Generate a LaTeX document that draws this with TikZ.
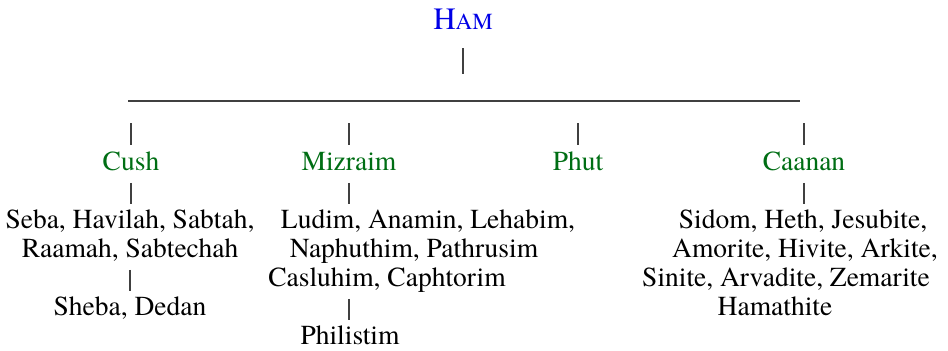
\documentclass[tikz,border=0pt]{standalone}
\usepackage{fontspec}
\setmainfont{texgyretermes}[Extension=.otf,UprightFont=*-regular,BoldFont=*-bold,ItalicFont=*-italic]
\usepackage{tikz}
\definecolor{hamblue}{RGB}{0,0,230}
\definecolor{songreen}{RGB}{0,110,20}

\begin{document}
\begin{tikzpicture}[x=0.5pt, y=-0.5pt,
		root_style/.style={anchor=base,inner sep=0pt,text depth=0pt,text=hamblue},
		son_style/.style={anchor=base,inner sep=0pt,text height=9pt,text depth=2.5pt,font=\fontsize{13.75}{16}\selectfont,text=songreen},
		name_style/.style={anchor=base,inner sep=0pt,text height=9pt,text depth=2.5pt,font=\fontsize{13.75}{16}\selectfont},
		rail_style/.style={draw=black!75,line width=0.65pt},
		bar_style/.style={draw=black!75,line width=0.65pt,shorten <=3.75pt,shorten >=3pt}]

		\useasboundingbox (0,0) rectangle (948,350);

		\node[root_style] (ham) at (463,29) {\fontsize{15.5}{18}\selectfont H\fontsize{11.5}{14}\selectfont AM};

		\coordinate (rail_w) at (128,101);
		\coordinate (rail_e) at (800,101);

		\node[son_style] (cush) at (131,170) {Cush};
		\node[son_style] (mizraim) at (349,170) {Mizraim};
		\node[son_style] (phut) at (578,170) {Phut};
		\node[son_style] (caanan) at (804,170) {Caanan};

		\node[name_style] (seba) at (130,228) {Seba, Havilah, Sabtah,};
		\node[name_style] (raamah) at (130,257) {Raamah, Sabtechah};
		\node[name_style] (sheba) at (130,315) {Sheba, Dedan};

		\node[name_style] (ludim) at (428,228) {Ludim, Anamin, Lehabim,};
		\node[name_style] (naphuthim) at (414,257) {Naphuthim, Pathrusim};
		\node[name_style] (casluhim) at (387,286) {Casluhim, Caphtorim};
		\node[name_style] (philistim) at (350,344) {Philistim};

		\node[name_style] (sidom) at (803,228) {Sidom, Heth, Jesubite,};
		\node[name_style] (amorite) at (805,257) {Amorite, Hivite, Arkite,};
		\node[name_style] (sinite) at (786,286) {Sinite, Arvadite, Zemarite};
		\node[name_style] (hamathite) at (775,315) {Hamathite};

		\draw[bar_style, shorten <=9.5pt, shorten >=13.5pt] (ham.south) edge (ham.south |- rail_w);
		\draw[rail_style] (rail_w) -- (rail_e);

		\draw[bar_style, shorten <=11pt, shorten >=3.5pt] (cush.north |- rail_w) edge (cush.north);
		\draw[bar_style, shorten <=11pt, shorten >=3.5pt] (mizraim.north |- rail_w) edge (mizraim.north);
		\draw[bar_style, shorten <=11pt, shorten >=3.5pt] (phut.north |- rail_w) edge (phut.north);
		\draw[bar_style, shorten <=11pt, shorten >=3.5pt] (caanan.north |- rail_w) edge (caanan.north);

		\draw[bar_style] (cush.south) edge (cush.south |- seba.north);
		\draw[bar_style] (raamah.south) edge (raamah.south |- sheba.north);
		\draw[bar_style] (mizraim.south) edge (mizraim.south |- ludim.north);
		\draw[bar_style] (mizraim.south |- casluhim.south) edge (mizraim.south |- philistim.north);
		\draw[bar_style] (caanan.south) edge (caanan.south |- sidom.north);

\end{tikzpicture}
\end{document}
